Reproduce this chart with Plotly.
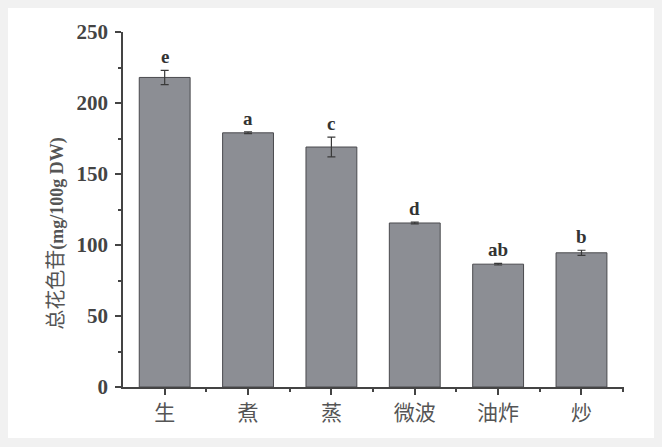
import plotly.graph_objects as go

categories = ["生", "煮", "蒸", "微波", "油炸", "炒"]
values = [218, 179, 169, 115.5, 86.5, 94.5]
errors = [5, 0.6, 7, 0.6, 0.6, 1.8]
letters = ["e", "a", "c", "d", "ab", "b"]

xpos = list(range(len(categories)))

fig = go.Figure()
fig.add_trace(go.Bar(
    x=xpos, y=values, width=0.61,
    marker=dict(color="#8c8e94", line=dict(color="#4a4a4e", width=1)),
    error_y=dict(type="data", array=errors, visible=True,
                 color="#3a3a3a", thickness=1.2, width=4),
))

for x, v, e, t in zip(xpos, values, errors, letters):
    fig.add_annotation(x=x, y=v + e, text="<b>%s</b>" % t, showarrow=False,
                       yanchor="bottom", yshift=1,
                       font=dict(family="Liberation Serif", size=19, color="#333"))

# y title as annotation, pinned at its lower end like the original
fig.add_annotation(
    xref="paper", yref="paper", x=-0.136, y=0.155,
    xanchor="center", yanchor="bottom", textangle=-90, showarrow=False,
    text="<span style='font-family:Noto Sans CJK SC;font-size:20px'>总花色苷</span>"
         "<b>(mg/100g DW)</b>",
    font=dict(family="Liberation Serif", size=18, color="#555"),
)

fig.update_layout(
    width=647, height=430,
    margin=dict(l=115, r=31, t=19, b=49),
    paper_bgcolor="white", plot_bgcolor="white",
    showlegend=False,
    font=dict(family="Liberation Serif", color="#333"),
)

fig.update_xaxes(
    range=[-0.5, 5.51], tickvals=xpos, ticktext=categories,
    showline=True, linecolor="#444", linewidth=1.5,
    ticks="outside", ticklen=6, tickcolor="#444", tickwidth=1.5,
    minor=dict(tickvals=[i + 0.5 for i in xpos], ticks="outside",
               ticklen=3, tickcolor="#444"),
    tickfont=dict(family="Noto Sans CJK SC", size=21, color="#555"),
    showgrid=False, zeroline=False,
)

fig.update_yaxes(
    range=[0, 250], tickvals=[0, 50, 100, 150, 200, 250],
    showline=True, linecolor="#444", linewidth=1.5,
    ticks="outside", ticklen=6, tickcolor="#444", tickwidth=1.5,
    minor=dict(dtick=25, ticks="outside", ticklen=3, tickcolor="#444"),
    tickfont=dict(family="Liberation Serif", size=21, color="#444", weight="bold"),
    ticklabelstandoff=3,
    showgrid=False, zeroline=False,
)

fig.write_html("out.html", post_script="document.body.style.background='#f1f1f1';")
